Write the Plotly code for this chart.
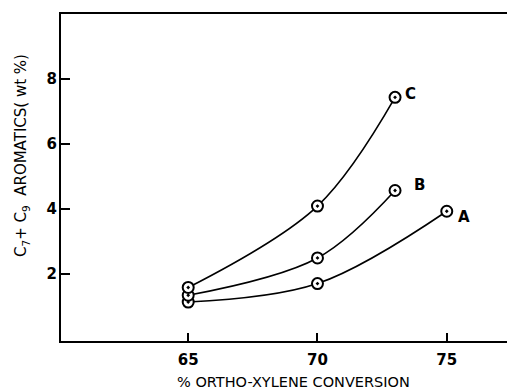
import plotly.graph_objects as go

conv_A = [65, 70, 75]
arom_A = [1.12, 1.69, 3.92]
conv_B = [65, 70, 73]
arom_B = [1.33, 2.48, 4.56]
conv_C = [65, 70, 73]
arom_C = [1.57, 4.08, 7.43]
series_names = ["A", "B", "C"]
x_ticks = [65, 70, 75]
y_ticks = [2, 4, 6, 8]
x_title = "% ORTHO-XYLENE CONVERSION"
y_title = "C<sub>7</sub>+ C<sub>9</sub>  AROMATICS( wt %)"

FONT = "DejaVu Sans, Liberation Sans, Arial"

fig = go.Figure()
for xs, ys in [(conv_A, arom_A), (conv_B, arom_B), (conv_C, arom_C)]:
    fig.add_trace(go.Scatter(
        x=xs, y=ys, mode="lines+markers",
        line=dict(color="black", width=1.6, shape="spline", smoothing=1.0),
        marker=dict(symbol="circle-dot", size=11, color="white",
                    line=dict(color="black", width=2)),
        showlegend=False, hoverinfo="skip"))

# curve labels
label_pos = {"A": (75.67, 3.74), "B": (73.96, 4.73), "C": (73.61, 7.53)}
for name in series_names:
    lx, ly = label_pos[name]
    fig.add_annotation(x=lx, y=ly, text=name, showarrow=False,
                       font=dict(family=FONT, size=15, color="black", weight="bold"))

# axis titles
fig.add_annotation(xref="paper", yref="paper", x=0.522, y=-0.124,
                   xanchor="center", yanchor="middle", showarrow=False,
                   text=x_title, font=dict(family=FONT, size=14.5, color="black"))
fig.add_annotation(xref="paper", yref="paper", x=-0.088, y=0.568,
                   xanchor="center", yanchor="middle", showarrow=False, textangle=-90,
                   text=y_title, font=dict(family=FONT, size=15, color="black"))

fig.update_layout(
    width=507, height=391,
    margin=dict(l=61, r=0, t=14, b=50),
    paper_bgcolor="white", plot_bgcolor="white",
    font=dict(family=FONT, color="black"),
)
fig.update_xaxes(
    range=[60.08, 77.33], tickvals=x_ticks, ticktext=[str(v) for v in x_ticks],
    ticks="inside", ticklen=8, tickwidth=1.5, tickcolor="black",
    showline=True, linecolor="black", linewidth=2, mirror=True,
    showgrid=False, zeroline=False, automargin=False,
    ticklabelstandoff=4,
    tickfont=dict(family=FONT, size=15, weight="bold", color="black"),
)
fig.update_yaxes(
    range=[-0.08, 10.0], tickvals=y_ticks, ticktext=[str(v) for v in y_ticks],
    ticks="inside", ticklen=9, tickwidth=1.5, tickcolor="black",
    showline=True, linecolor="black", linewidth=2, mirror=False,
    showgrid=False, zeroline=False, automargin=False,
    ticklabelstandoff=-1,
    tickfont=dict(family=FONT, size=15, weight="bold", color="black"),
)

fig.write_html("out.html", config={"displayModeBar": False},
               post_script="document.body.style.margin='0';")
